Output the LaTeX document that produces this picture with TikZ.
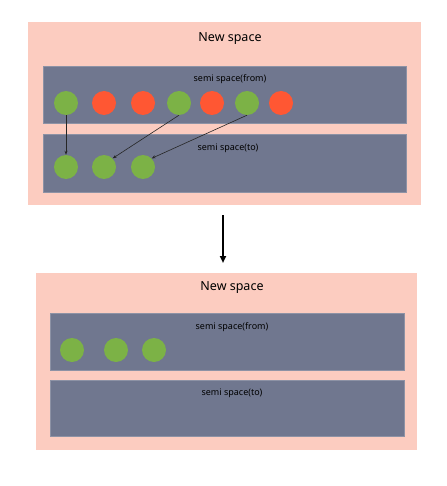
\documentclass[tikz,border=0pt]{standalone}
\usepackage{fontspec}
\setmainfont{Noto Sans}
\usetikzlibrary{arrows.meta}
\definecolor{pinkbg}{RGB}{252,204,192}
\definecolor{slate}{RGB}{112,119,143}
\definecolor{gcirc}{RGB}{124,178,70}
\definecolor{rcirc}{RGB}{255,87,51}
\tikzset{
  space/.style={fill=pinkbg, draw=none},
  semi/.style={fill=slate, draw=slate!80!white, line width=0.5pt},
  obj/.style={circle, minimum size=24pt, inner sep=0pt},
  live/.style={obj, fill=gcirc},
  dead/.style={obj, fill=rcirc},
  title/.style={font=\fontsize{12.5}{15}\selectfont},
  semilabel/.style={font=\fontsize{9}{11}\selectfont},
  copyarrow/.style={-{Stealth[length=4pt,width=3pt]}, line width=0.6pt, black!85},
  bigarrow/.style={-{Triangle[length=7pt,width=6pt]}, line width=2pt, black}
}
\begin{document}
\begin{tikzpicture}[x=1pt,y=-1pt]
\useasboundingbox (0,0) rectangle (446,486);
% top
\fill[space] (28,22) rectangle (421,205);
\node[title] (t1) at (230,39) {New space};
\draw[semi] (43,66) rectangle (406,123);
\draw[semi] (43,134) rectangle (406,192);
\node[semilabel] (f1) at (230,79) {semi space(from)};
\node[semilabel] (s1) at (228,148) {semi space(to)};
\node[live] (a1) at (66,103) {};
\node[dead] (a2) at (104,103) {};
\node[dead] (a3) at (143,103) {};
\node[live] (a4) at (179,103) {};
\node[dead] (a5) at (212,103) {};
\node[live] (a6) at (247,103) {};
\node[dead] (a7) at (281,103) {};
\node[live] (b1) at (66,167) {};
\node[live] (b2) at (104,167) {};
\node[live] (b3) at (143,167) {};
\draw[copyarrow] (a1.south) -- (b1.north);
\draw[copyarrow] (a4.south) -- (b2.north east);
\draw[copyarrow] (a6.south) -- (b3.north east);
% middle arrow
\coordinate (m1) at (223,215);
\coordinate (m2) at (223,263);
\draw[bigarrow] (m1) -- (m2);
% bottom
\fill[space] (36,273) rectangle (417,450);
\node[title] (t2) at (232,288) {New space};
\draw[semi] (50,313) rectangle (404,370);
\draw[semi] (50,380) rectangle (404,436);
\node[semilabel] (f2) at (232,327) {semi space(from)};
\node[semilabel] (s2) at (232,393) {semi space(to)};
\node[live] (c1) at (72,350) {};
\node[live] (c2) at (116,350) {};
\node[live] (c3) at (154,350) {};
\end{tikzpicture}
\end{document}
